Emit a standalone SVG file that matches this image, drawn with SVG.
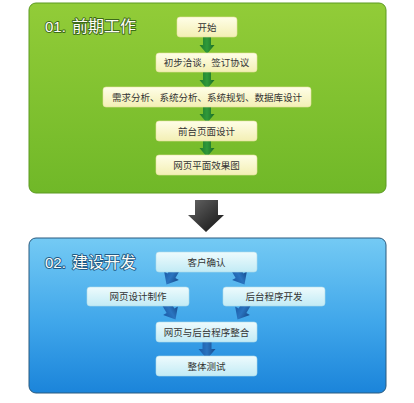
<svg xmlns="http://www.w3.org/2000/svg" width="414" height="403" viewBox="0 0 414 403">
<defs>
<linearGradient id="gGreen" x1="0" y1="0" x2="0" y2="1"><stop offset="0" stop-color="#92cc38"/><stop offset="1" stop-color="#70b828"/></linearGradient>
<linearGradient id="gBlue" x1="0" y1="0" x2="0" y2="1"><stop offset="0" stop-color="#74caf4"/><stop offset="0.55" stop-color="#3fa6ea"/><stop offset="1" stop-color="#1b84da"/></linearGradient>
<linearGradient id="gYel" x1="0" y1="0" x2="0" y2="1"><stop offset="0" stop-color="#fffee8"/><stop offset="1" stop-color="#f3efb4"/></linearGradient>
<linearGradient id="gCyan" x1="0" y1="0" x2="0" y2="1"><stop offset="0" stop-color="#eefbfd"/><stop offset="1" stop-color="#c2ebf5"/></linearGradient>
<linearGradient id="gGA" x1="0" y1="0" x2="1" y2="0"><stop offset="0" stop-color="#1f7a2c"/><stop offset="0.5" stop-color="#2f9a3a"/><stop offset="1" stop-color="#1a6a26"/></linearGradient>
<linearGradient id="gBA" x1="0" y1="0" x2="1" y2="0"><stop offset="0" stop-color="#1a5aa6"/><stop offset="0.5" stop-color="#2a74c0"/><stop offset="1" stop-color="#164a8c"/></linearGradient>
<linearGradient id="gBlk" x1="0" y1="0" x2="1" y2="1"><stop offset="0" stop-color="#666"/><stop offset="1" stop-color="#111"/></linearGradient>
<path id="ga" d="M-4,0 H4 V8 H7.5 L0,17 L-7.5,8 H-4 Z" fill="url(#gGA)"/>
<path id="ba" d="M-4.5,0 H4.5 V9 H8.5 L0,19 L-8.5,9 H-4.5 Z" fill="url(#gBA)"/>
</defs>
<style>
.t{font-family:"Noto Sans CJK SC","Liberation Sans",sans-serif;font-size:9.5px;fill:#333;text-anchor:middle}
.h{font-family:"Noto Sans CJK SC","Liberation Sans",sans-serif;font-size:16px;fill:#fdfdf6;stroke-width:1.8;paint-order:stroke;stroke-linejoin:round}
.hn{font-family:"Liberation Sans",sans-serif;font-size:15px}
.yb{fill:url(#gYel);stroke:#e6e2a0;stroke-width:0.6}
.cb{fill:url(#gCyan);stroke:#b0dcea;stroke-width:0.6}
</style>
<rect width="414" height="403" fill="#ffffff"/>
<g id="panel1">
<rect x="29" y="3" width="357" height="190" rx="7" fill="url(#gGreen)" stroke="#5c9a22" stroke-width="1"/>
<text class="h hn" x="45" y="32" stroke="#3d6a1a">01.</text>
<text class="h" x="72" y="32" stroke="#3d6a1a">前期工作</text>
</g>
<g id="panel2">
<rect x="29" y="238" width="357" height="155" rx="7" fill="url(#gBlue)" stroke="#2a5a7e" stroke-width="1"/>
<text class="h hn" x="45" y="268" stroke="#1f5a86">02.</text>
<text class="h" x="72" y="268" stroke="#1f5a86">建设开发</text>
</g>
<g id="connectors">
<use href="#ga" x="207" y="37"/>
<use href="#ga" x="207" y="72"/>
<use href="#ga" x="207" y="106"/>
<use href="#ga" x="207" y="140"/>
<path d="M195,200 H218 V215 H224 L206,232 L188,215 H195 Z" fill="url(#gBlk)"/>
<use href="#ba" transform="translate(176,268) rotate(30)"/>
<use href="#ba" transform="translate(235,268) rotate(-30)"/>
<use href="#ba" transform="translate(166,303) rotate(-30)"/>
<use href="#ba" transform="translate(247,303) rotate(30)"/>
<use href="#ba" transform="translate(207,340)"/>
</g>
<g id="n1"><rect class="yb" x="177" y="17" width="60" height="20" rx="3"/><text class="t" x="207" y="30.5">开始</text></g>
<g id="n2"><rect class="yb" x="156" y="53" width="101" height="19" rx="3"/><text class="t" x="206.5" y="66">初步洽谈，签订协议</text></g>
<g id="n3"><rect class="yb" x="103" y="87" width="208" height="20" rx="3"/><text class="t" x="207" y="100.5">需求分析、系统分析、系统规划、数据库设计</text></g>
<g id="n4"><rect class="yb" x="156" y="121" width="101" height="20" rx="3"/><text class="t" x="206.5" y="134.5">前台页面设计</text></g>
<g id="n5"><rect class="yb" x="156" y="155" width="101" height="20" rx="3"/><text class="t" x="206.5" y="168.5">网页平面效果图</text></g>
<g id="m1"><rect class="cb" x="156" y="252" width="101" height="20" rx="3"/><text class="t" x="206.5" y="265.5">客户确认</text></g>
<g id="m2"><rect class="cb" x="87" y="287" width="102" height="19" rx="3"/><text class="t" x="138" y="300">网页设计制作</text></g>
<g id="m3"><rect class="cb" x="223" y="287" width="102" height="19" rx="3"/><text class="t" x="274" y="300">后台程序开发</text></g>
<g id="m4"><rect class="cb" x="156" y="322" width="101" height="20" rx="3"/><text class="t" x="206.5" y="335.5">网页与后台程序整合</text></g>
<g id="m5"><rect class="cb" x="156" y="356" width="101" height="20" rx="3"/><text class="t" x="206.5" y="369.5">整体测试</text></g>
</svg>
